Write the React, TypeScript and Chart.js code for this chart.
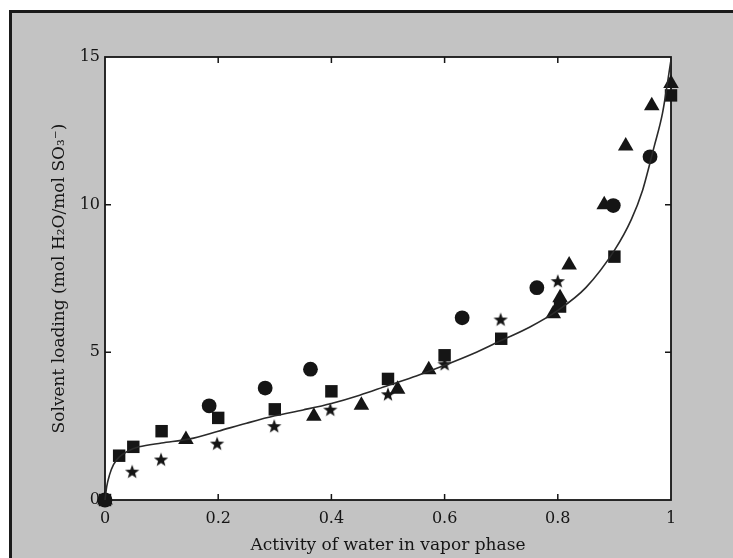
import React, { useEffect, useRef } from "react";
import { Chart, registerables } from "chart.js";

Chart.register(...registerables);

// ---- Data ----
const squaresX = [0, 0.025, 0.05, 0.1, 0.2, 0.3, 0.4, 0.5, 0.6, 0.7, 0.804, 0.9, 1.0];
const squaresY = [0, 1.5, 1.8, 2.33, 2.78, 3.07, 3.68, 4.1, 4.9, 5.46, 6.55, 8.24, 13.7];

const circlesX = [0, 0.184, 0.283, 0.363, 0.631, 0.763, 0.898, 0.963];
const circlesY = [0, 3.19, 3.79, 4.43, 6.17, 7.19, 9.97, 11.62];

const trianglesX = [0, 0.143, 0.369, 0.453, 0.517, 0.572, 0.792, 0.804, 0.82, 0.882, 0.92, 0.966, 1.0];
const trianglesY = [0, 2.05, 2.84, 3.21, 3.75, 4.41, 6.31, 6.85, 7.96, 10.0, 11.99, 13.35, 14.1];

const starsX = [0.048, 0.099, 0.198, 0.299, 0.398, 0.5, 0.6, 0.699, 0.8];
const starsY = [0.96, 1.37, 1.91, 2.5, 3.06, 3.58, 4.6, 6.11, 7.41];

const fitX = [0, 0.003, 0.008, 0.015, 0.025, 0.04, 0.06, 0.1, 0.15, 0.2, 0.25, 0.3, 0.35, 0.4, 0.45, 0.5, 0.55, 0.6, 0.65, 0.7, 0.75, 0.8, 0.85, 0.9, 0.93, 0.95, 0.96, 0.97, 0.985, 1.0];
const fitY = [0, 0.45, 0.85, 1.2, 1.45, 1.65, 1.8, 1.93, 2.07, 2.33, 2.6, 2.85, 3.05, 3.27, 3.55, 3.88, 4.2, 4.56, 4.95, 5.4, 5.85, 6.42, 7.2, 8.45, 9.5, 10.5, 11.2, 11.95, 13.1, 14.9];

const xTickLabels = ["0", "0.2", "0.4", "0.6", "0.8", "1"];
const yTickLabels = ["0", "5", "10", "15"];

const xTitle = "Activity of water in vapor phase";
const yTitle = "Solvent loading (mol H\u2082O/mol SO\u2083\u207B)";

const INK = "#151515";
const FONT = "'DejaVu Serif', 'Liberation Serif', serif";

const pts = (xs: number[], ys: number[]) => xs.map((x, i) => ({ x, y: ys[i] }));

const framePlugin = {
  id: "frame",
  beforeDraw(chart: any) {
    const { ctx, width, height, chartArea: a } = chart;
    ctx.save();
    ctx.fillStyle = "#ffffff";
    ctx.fillRect(0, 0, width, height);
    ctx.fillStyle = "#c3c3c3";
    ctx.fillRect(10, 11, width - 10, height - 11);
    ctx.strokeStyle = "#1a1a1a";
    ctx.lineWidth = 3;
    ctx.beginPath();
    ctx.moveTo(10.5, height);
    ctx.lineTo(10.5, 11.5);
    ctx.lineTo(width, 11.5);
    ctx.stroke();
    ctx.fillStyle = "#ffffff";
    ctx.fillRect(a.left, a.top, a.right - a.left, a.bottom - a.top);
    ctx.restore();
  },
  beforeDatasetsDraw(chart: any) {
    const { ctx, chartArea: a, scales } = chart;
    ctx.save();
    ctx.strokeStyle = INK;
    ctx.lineWidth = 1.8;
    ctx.strokeRect(a.left, a.top, a.right - a.left, a.bottom - a.top);
    ctx.lineWidth = 1.5;
    const tl = 6;
    ctx.beginPath();
    scales.x.ticks.forEach((t: any) => {
      const px = scales.x.getPixelForValue(t.value);
      if (px <= a.left + 1 || px >= a.right - 1) return;
      ctx.moveTo(px, a.bottom);
      ctx.lineTo(px, a.bottom - tl);
      ctx.moveTo(px, a.top);
      ctx.lineTo(px, a.top + tl);
    });
    scales.y.ticks.forEach((t: any) => {
      const py = scales.y.getPixelForValue(t.value);
      if (py <= a.top + 1 || py >= a.bottom - 1) return;
      ctx.moveTo(a.left, py);
      ctx.lineTo(a.left + tl, py);
      ctx.moveTo(a.right, py);
      ctx.lineTo(a.right - tl, py);
    });
    ctx.stroke();
    ctx.restore();
  },
};

function makeStar(): HTMLCanvasElement {
  const c = document.createElement("canvas");
  c.width = 16;
  c.height = 16;
  const g = c.getContext("2d")!;
  g.fillStyle = INK;
  g.beginPath();
  const cx = 8, cy = 8.5, ro = 7.5, ri = 3.1;
  for (let i = 0; i < 10; i++) {
    const r = i % 2 === 0 ? ro : ri;
    const ang = -Math.PI / 2 + (i * Math.PI) / 5;
    const x = cx + r * Math.cos(ang);
    const y = cy + r * Math.sin(ang);
    if (i === 0) g.moveTo(x, y);
    else g.lineTo(x, y);
  }
  g.closePath();
  g.fill();
  return c;
}

export default function App() {
  const ref = useRef<HTMLCanvasElement | null>(null);

  useEffect(() => {
    document.body.style.margin = "0";
    const canvas = ref.current;
    if (!canvas) return;
    const star = makeStar();
    const scatterBase = {
      type: "scatter" as const,
      showLine: false,
      clip: false as any,
      backgroundColor: INK,
      borderColor: INK,
      borderWidth: 0,
    };
    const chart = new Chart(canvas, {
      type: "scatter",
      data: {
        datasets: [
          {
            type: "line",
            data: pts(fitX, fitY),
            borderColor: "#2a2a2a",
            borderWidth: 1.6,
            pointRadius: 0,
            cubicInterpolationMode: "monotone",
            fill: false,
            clip: false as any,
          } as any,
          { ...scatterBase, data: pts(squaresX, squaresY), pointStyle: "rect", pointRadius: 8.8 },
          { ...scatterBase, data: pts(circlesX, circlesY), pointStyle: "circle", pointRadius: 7.4 },
          { ...scatterBase, data: pts(trianglesX, trianglesY), pointStyle: "triangle", pointRadius: 9 },
          { ...scatterBase, data: pts(starsX, starsY), pointStyle: star as any, pointRadius: 8 },
        ],
      },
      options: {
        responsive: false,
        animation: false,
        events: [],
        layout: { padding: { left: 47, top: 57, right: 62, bottom: 0 } },
        plugins: { legend: { display: false }, tooltip: { enabled: false } },
        scales: {
          x: {
            type: "linear",
            min: 0,
            max: 1,
            afterFit: (s: any) => {
              s.height = 58;
            },
            grid: { display: false, drawTicks: false },
            border: { display: false },
            ticks: {
              stepSize: 0.2,
              padding: 9,
              color: INK,
              font: { family: FONT, size: 16 },
              maxRotation: 0,
              callback: (_v: any, i: number) => xTickLabels[i],
            },
            title: {
              display: true,
              text: xTitle,
              color: INK,
              font: { family: FONT, size: 17 },
              padding: { top: 0, bottom: 2 },
            },
          },
          y: {
            type: "linear",
            min: 0,
            max: 15,
            afterFit: (s: any) => {
              s.width = 58;
            },
            grid: { display: false, drawTicks: false },
            border: { display: false },
            ticks: {
              stepSize: 5,
              padding: 5,
              color: INK,
              font: { family: FONT, size: 16 },
              callback: (_v: any, i: number) => yTickLabels[i],
            },
            title: {
              display: true,
              text: yTitle,
              color: INK,
              font: { family: FONT, size: 17 },
              padding: { top: 2, bottom: 2 },
            },
          },
        },
      },
      plugins: [framePlugin],
    });
    return () => chart.destroy();
  }, []);

  return (
    <div style={{ width: 733, height: 558 }}>
      <canvas ref={ref} width={733} height={558} style={{ display: "block" }} />
    </div>
  );
}
